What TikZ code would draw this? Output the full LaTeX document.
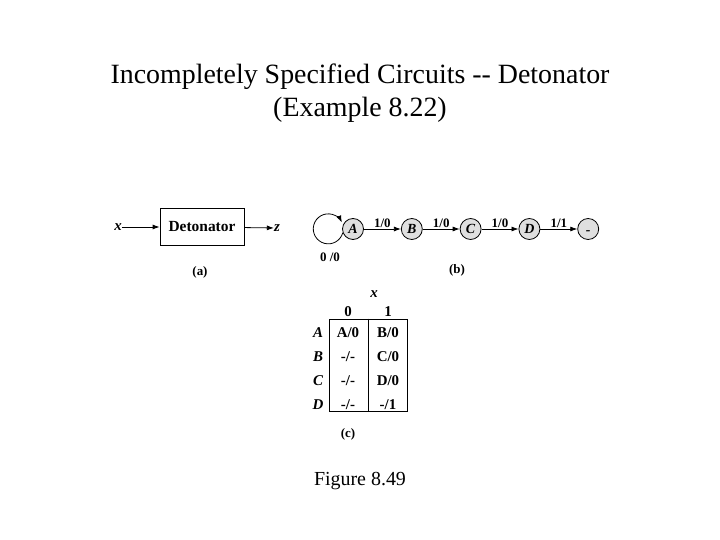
\documentclass[tikz,border=0pt]{standalone}
\usepackage{fontspec}
\setmainfont{Liberation Serif}
\usetikzlibrary{arrows.meta,positioning}

\begin{document}
\begin{tikzpicture}[x=1bp,y=1bp,>={Latex[length=7bp,width=5bp]}]
    \tikzset{
      state/.style={circle,draw,thick,fill=gray!25,minimum size=21bp,inner sep=0pt,
        font=\fontsize{14}{14}\selectfont\bfseries\itshape},
      lbl/.style={font=\fontsize{13}{13}\selectfont\bfseries,inner sep=1bp},
      cell/.style={font=\fontsize{15}{15}\selectfont\bfseries,inner sep=0pt},
      ital/.style={font=\fontsize{15}{15}\selectfont\bfseries\itshape,inner sep=0pt},
      flow/.style={->,thick}
    }
    \useasboundingbox (0,0) rectangle (720,-540);
    % title
    \node[font=\fontsize{28}{28}\selectfont] (title1) at (360,-77) {Incompletely Specified Circuits {-}{-} Detonator};
    \node[font=\fontsize{28}{28}\selectfont] (title2) at (360,-110) {(Example 8.22)};
    % (a) block
    \node[draw,thick,minimum width=84bp,minimum height=37bp,inner sep=0pt,
      font=\fontsize{15.5}{15.5}\selectfont\bfseries] (det) at (202,-227) {Detonator};
    \node[ital] (xin) at (118,-227) {x};
    \node[ital] (zout) at (277,-228) {z};
    \draw[flow] (xin) -- (det);
    \draw[flow] (det) -- (zout);
    \node[lbl] (capa) at (200,-272) {(a)};
    % (b) state diagram
    \node[state] (A) at (353,-229) {A};
    \node[state,right=37bp of A] (B) {B};
    \node[state,right=37bp of B] (C) {C};
    \node[state,right=37bp of C] (D) {D};
    \node[state,right=37bp of D] (E) {\raisebox{-6bp}[0pt][0pt]{-}};
    \draw[flow] (A) -- node[lbl,above] {1/0} (B);
    \draw[flow] (B) -- node[lbl,above] {1/0} (C);
    \draw[flow] (C) -- node[lbl,above] {1/0} (D);
    \draw[flow] (D) -- node[lbl,above] {1/1} (E);
    \draw[flow] (A.200) arc[start angle=-15,end angle=-335,radius=15];
    \node[lbl] (loop) at (330,-257) {0 /0};
    \node[lbl] (capb) at (457,-270) {(b)};
    % (c) state table
    \node[draw,thick,minimum width=78bp,minimum height=92bp,inner sep=0pt] (tab) at (368,-365) {};
    \draw[thick] (tab.north) -- (tab.south);
    \node[ital] (hx) at (374,-294) {x};
    \node[cell] (h0) at (348,-312) {0};
    \node[cell] (h1) at (388,-312) {1};
    \foreach \r/\a/\b [count=\i] in {A/A\slash 0/B\slash 0, B/-\slash -/C\slash 0, C/-\slash -/D\slash 0, D/-\slash -/-\slash 1} {
      \node[ital] (r\i) at (318,-309-24*\i) {\r};
      \node[cell] (a\i) at (348,-309-24*\i) {\a};
      \node[cell] (b\i) at (388,-309-24*\i) {\b};
    }
    \node[lbl] (capc) at (348,-434) {(c)};
    % caption
    \node[font=\fontsize{20}{20}\selectfont] (fig) at (360,-481) {Figure 8.49};
\end{tikzpicture}
\end{document}
